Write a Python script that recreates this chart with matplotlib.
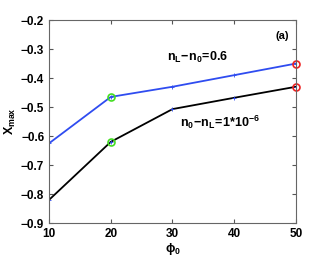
import numpy as np
import matplotlib
matplotlib.use("Agg")
import matplotlib.pyplot as plt

plt.rcParams['font.family'] = ['Liberation Sans', 'DejaVu Sans']
plt.rcParams['font.weight'] = 'bold'
plt.rcParams['mathtext.fontset'] = 'custom'
plt.rcParams['mathtext.rm'] = 'Liberation Sans:bold'
plt.rcParams['mathtext.it'] = 'Liberation Sans:bold'
plt.rcParams['mathtext.bf'] = 'Liberation Sans:bold'

phi0 = [10, 20, 30, 40, 50]
x_blue = [-0.625, -0.465, -0.430, -0.390, -0.350]
x_black = [-0.820, -0.620, -0.507, -0.468, -0.430]

fig = plt.figure(figsize=(3.27, 2.57), dpi=100)
ax = fig.add_axes([0.150, 0.132, 0.755, 0.790])

ax.plot(phi0, x_blue, '-', color='#2f4cf0', lw=1.3)
ax.plot(phi0, x_black, '-', color='black', lw=1.3)
# small blue point markers on both curves
ax.plot(phi0, x_blue, '+', color='#2f4cf0', ms=3, mew=0.6)
ax.plot(phi0, x_black, '+', color='#2f4cf0', ms=3, mew=0.6)
# highlighted points
ax.plot([phi0[1], phi0[1]], [x_blue[1], x_black[1]], 'o', mfc='none', mec='#44dd22', ms=5, mew=1.2)
ax.plot([phi0[4], phi0[4]], [x_blue[4], x_black[4]], 'o', mfc='none', mec='#ee2222', ms=5, mew=1.2, clip_on=False)

ax.set_xlim(10, 50)
ax.set_ylim(-0.9, -0.2)
ax.set_xticks([10, 20, 30, 40, 50])
ax.set_yticks(np.arange(-0.9, -0.15, 0.1))
ax.set_yticklabels(['\u22120.9', '\u22120.8', '\u22120.7', '\u22120.6', '\u22120.5', '\u22120.4', '\u22120.3', '\u22120.2'])
ax.tick_params(direction='in', top=True, right=True, labelsize=8.5, length=3, width=0.8, colors='#555555', labelcolor='black')
for lbl in ax.get_xticklabels() + ax.get_yticklabels():
    lbl.set_fontweight('bold')
for s in ax.spines.values():
    s.set_color('#666666')
    s.set_linewidth(0.8)

ax.set_xlabel(r'$\phi_0$', fontsize=9, labelpad=1)
ax.set_ylabel(r'$X_{max}$', fontsize=9, labelpad=2)

ax.text(34.1, -0.328, r'$n_L\!-\!n_0\!=\!0.6$', fontsize=9, ha='center', va='center')
ax.text(37.7, -0.552, r'$n_0\!-\!n_L\!=\!1{*}10^{-6}$', fontsize=9, ha='center', va='center')
ax.text(48.9, -0.255, '(a)', fontsize=8, fontweight='bold', ha='right', va='center')

fig.savefig('out.png', dpi=100)
